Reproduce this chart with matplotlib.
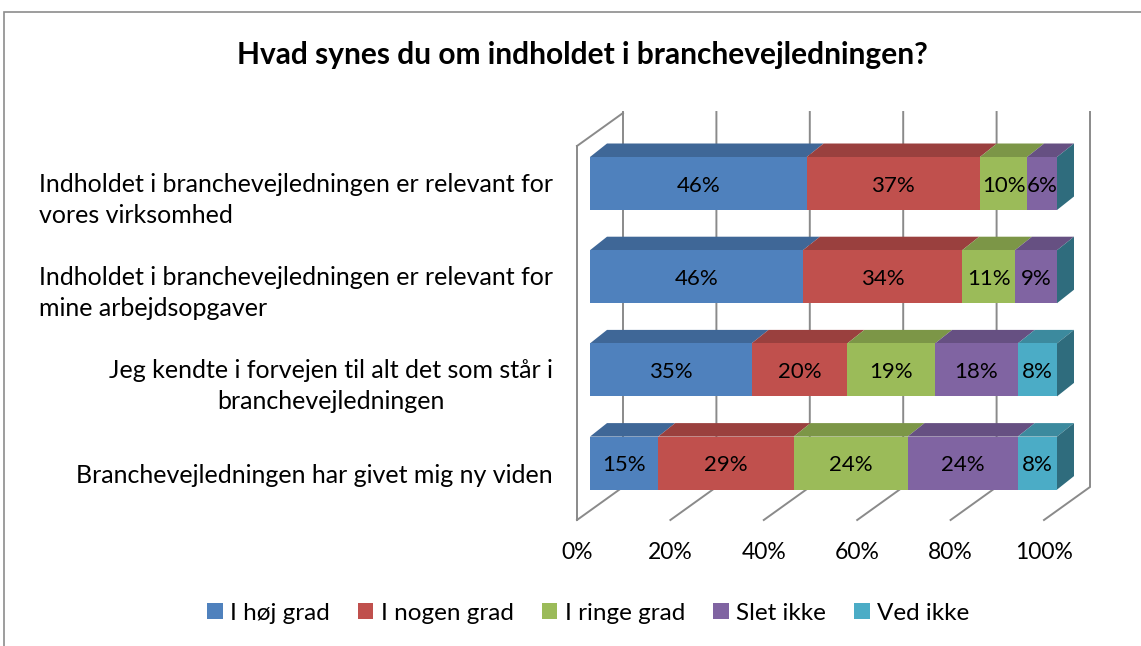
"""
Stacked 100% bar chart (Excel-style pseudo 3D) for the branchevejledning survey.
"""

import matplotlib
matplotlib.use("Agg")
import matplotlib.pyplot as plt
import numpy as np
from matplotlib.patches import Polygon, Rectangle

categories = [
    "Indholdet i branchevejledningen er relevant for\nvores virksomhed",
    "Indholdet i branchevejledningen er relevant for\nmine arbejdsopgaver",
    "Jeg kendte i forvejen til alt det som står i\nbranchevejledningen",
    "Branchevejledningen har givet mig ny viden",
]
label_align = ["left", "left", "center", "center"]

series = ["I høj grad", "I nogen grad", "I ringe grad", "Slet ikke", "Ved ikke"]
hoej_grad = [46.4, 45.6, 34.6, 14.6]
nogen_grad = [37.1, 34.1, 20.5, 29.0]
ringe_grad = [10.1, 11.3, 18.8, 24.4]
slet_ikke = [6.4, 9.0, 17.7, 23.6]
ved_ikke = [0.0, 0.0, 8.4, 8.4]

xticks = [0, 20, 40, 60, 80, 100]
xticklabels = ["0%", "20%", "40%", "60%", "80%", "100%"]

colors = ["#4F81BD", "#C0504D", "#9BBB59", "#8064A2", "#4BACC6"]
title = "Hvad synes du om indholdet i branchevejledningen?"

FONT = "Lato"
W, H = 1141, 646

# pixel geometry of the plot area
PX0, PX100 = 577, 1044          # front plane 0% / 100%
ROW0, ROWSTEP = 183.5, 93.2     # centre of first bar, row spacing
ppx = (PX100 - PX0) / 100.0


def dx(px):
    return px / ppx


def dy(px):
    return px / ROWSTEP


def shade(c, f):
    r, g, b = matplotlib.colors.to_rgb(c)
    return (r * f, g * f, b * f)


fig = plt.figure(figsize=(W / 100, H / 100), dpi=100)
ax_l, ax_r, ax_t, ax_b = 560, 1100, 105, 525
ax = fig.add_axes([ax_l / W, 1 - ax_b / H, (ax_r - ax_l) / W, (ax_b - ax_t) / H])
ax.set_xlim((ax_l - PX0) / ppx, (ax_r - PX0) / ppx)
ax.set_ylim((ax_b - ROW0) / ROWSTEP, (ax_t - ROW0) / ROWSTEP)

floor_y = (520 - ROW0) / ROWSTEP
top_y = (112 - ROW0) / ROWSTEP
wall_dx, wall_dy = dx(46), dy(-33)
grid_c = "#8a8a8a"

# walls and gridlines
for t in xticks:
    ax.plot([t, t + wall_dx, t + wall_dx], [floor_y, floor_y + wall_dy, top_y],
            color=grid_c, lw=1.4, zorder=1, solid_joinstyle="miter")
front_top = (146 - ROW0) / ROWSTEP
ax.plot([0, 0], [floor_y, front_top], color=grid_c, lw=1.4, zorder=1)
ax.plot([0, wall_dx], [front_top, front_top + wall_dy], color=grid_c, lw=1.4, zorder=1)

# bars
data = np.array([hoej_grad, nogen_grad, ringe_grad, slet_ikke, ved_ikke])
y = np.arange(len(categories))
bar_h = dy(53)
bar_off = dx(13)
bdx, bdy = dx(17), dy(-13.5)
left = np.full(len(categories), bar_off)
for i, (name, vals) in enumerate(zip(series, data)):
    ax.barh(y, vals, left=left, height=bar_h, color=colors[i], lw=0, zorder=3,
            label=name)
    for j, v in enumerate(vals):
        x0, x1 = left[j], left[j] + v
        top = y[j] - bar_h / 2
        if v > 0:
            ax.add_patch(Polygon([(x0, top), (x1, top), (x1 + bdx, top + bdy),
                                  (x0 + bdx, top + bdy)], closed=True,
                                 fc=shade(colors[i], 0.8), lw=0, zorder=2))
            ax.text((x0 + x1) / 2, y[j] + dy(2), f"{round(v)}%", ha="center",
                    va="center", fontsize=16, family=FONT, zorder=5)
        if i == len(series) - 1:
            bot = y[j] + bar_h / 2
            ax.add_patch(Polygon([(x1, top), (x1 + bdx, top + bdy),
                                  (x1 + bdx, bot + bdy), (x1, bot)], closed=True,
                                 fc=shade(colors[i], 0.63), lw=0, zorder=2))
    left = left + vals

# axis labels
ax.set_xticks(xticks)
ax.set_xticklabels(xticklabels, family=FONT, fontsize=16.5)
ax.tick_params(axis="x", length=0, pad=12)
ax.set_yticks(y + dy(10))
ax.set_yticklabels(categories, family=FONT, fontsize=18)
for lab, al in zip(ax.get_yticklabels(), label_align):
    lab.set_multialignment(al)
    lab.set_linespacing(1.45)
ax.tick_params(axis="y", length=0, pad=5)
for s in ax.spines.values():
    s.set_visible(False)
ax.patch.set_visible(False)

fig.text(582 / W, 1 - 55 / H, title, ha="center", va="center", fontsize=21.5,
         fontweight="bold", family=FONT)

handles, labels = ax.get_legend_handles_labels()
fig.legend(handles, labels, loc="center", bbox_to_anchor=(588 / W, 1 - 613 / H),
           ncol=5, frameon=False, prop={"family": FONT, "size": 17.5},
           handlelength=0.65, handleheight=0.65, handletextpad=0.3,
           columnspacing=1.15)

fig.add_artist(Rectangle((4 / W, -0.1), 1.2, 1.1 - 12 / H, transform=fig.transFigure,
                         fill=False, ec="#8c8c8c", lw=1.2))

fig.savefig("out.png", dpi=100)
